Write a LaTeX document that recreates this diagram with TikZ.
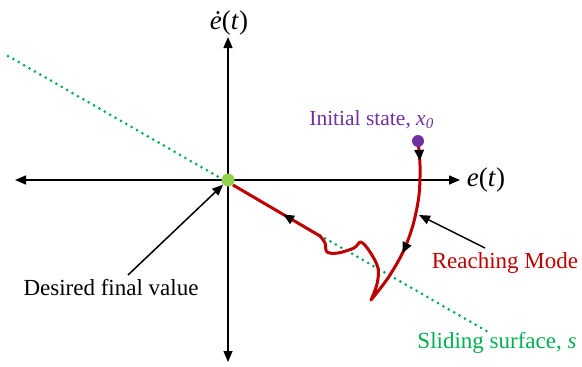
\documentclass[tikz,border=0pt]{standalone}
\usepackage{fontspec}
\setmainfont{Liberation Serif}
\usetikzlibrary{arrows.meta,decorations.markings}
\definecolor{redpath}{RGB}{192,0,0}
\definecolor{slidegreen}{RGB}{0,176,80}
\definecolor{dotgreen}{RGB}{146,208,80}
\definecolor{initpurple}{RGB}{112,48,160}
\tikzset{
  axis/.style={line width=1.5pt,-{Triangle[length=11pt,width=9pt]}},
  ptr/.style={line width=1.5pt,-{Triangle[length=11pt,width=9pt]}},
  lbl/.style={inner sep=0pt,font=\fontsize{23}{27}\selectfont},
  axlbl/.style={inner sep=0pt,font=\fontsize{27}{31}\selectfont},
  dotnode/.style={circle,inner sep=0pt,minimum size=13pt},
  traj/.style={draw=redpath,line width=3pt,line join=round,
    postaction={decorate},
    decoration={markings,
      mark=at position 20pt with {\arrow[black]{Triangle[length=11pt,width=9pt]}},
      mark=at position 115pt with {\arrow[black]{Triangle[length=11pt,width=9pt]}},
      mark=at position -58pt with {\arrow[black]{Triangle[length=11pt,width=9pt]}}}}
}
\begin{document}
\begin{tikzpicture}[x=1pt,y=-1pt]
\useasboundingbox (0,0) rectangle (582,367);
% axes
\coordinate (C) at (228,180);
\coordinate (L) at (15,180);
\coordinate (R) at (460,180);
\coordinate (T) at (228,37);
\coordinate (B) at (228,362);
\draw[axis] (C) -- (R);
\draw[axis] (C) -- (L);
\draw[axis] (C) -- (T);
\draw[axis] (C) -- (B);
% sliding surface
\coordinate (S1) at (8,56);
\coordinate (S2) at (490,333);
\draw[slidegreen,line width=3pt,line cap=round,dash pattern=on 0pt off 6.2pt] (S1) -- (S2);
% trajectory
\draw[traj] plot[smooth,tension=0.55] coordinates{(418,141) (420,165) (419,195) (413,225) (403,252) (388,278) (371,300)}
  -- plot[smooth,tension=0.55] coordinates{(371,300) (377,284) (378,268) (370,252) (361,242) (354,248) (338,253) (327,252) (325,243) (320,236)}
  -- (233,185);
% dots
\node[dotnode,fill=dotgreen] (O) at (228,180) {};
\node[dotnode,fill=initpurple,minimum size=12pt] (X0) at (418,141) {};
% labels
\node[axlbl] (edot) at (229,23) {\textit{ė}(\textit{t})};
\node[axlbl] (e) at (486,180) {\textit{e}(\textit{t})};
\node[lbl,text=initpurple,font=\fontsize{21.5}{25}\selectfont,anchor=east] (init) at (434,120) {Initial state, \textit{x\textsubscript{0}}};
\node[lbl,text=redpath] (reach) at (505,263) {Reaching Mode};
\node[lbl] (dfv) at (111,288) {Desired final value};
\node[lbl,text=slidegreen] (slide) at (497,343) {Sliding surface, \textit{s}};
% pointers
\coordinate (dfvtail) at (128,275);
\draw[ptr] (dfvtail) -- (O);
\coordinate (rmtail) at (485,248);
\coordinate (rmtip) at (419,215);
\draw[ptr] (rmtail) -- (rmtip);
\end{tikzpicture}
\end{document}
